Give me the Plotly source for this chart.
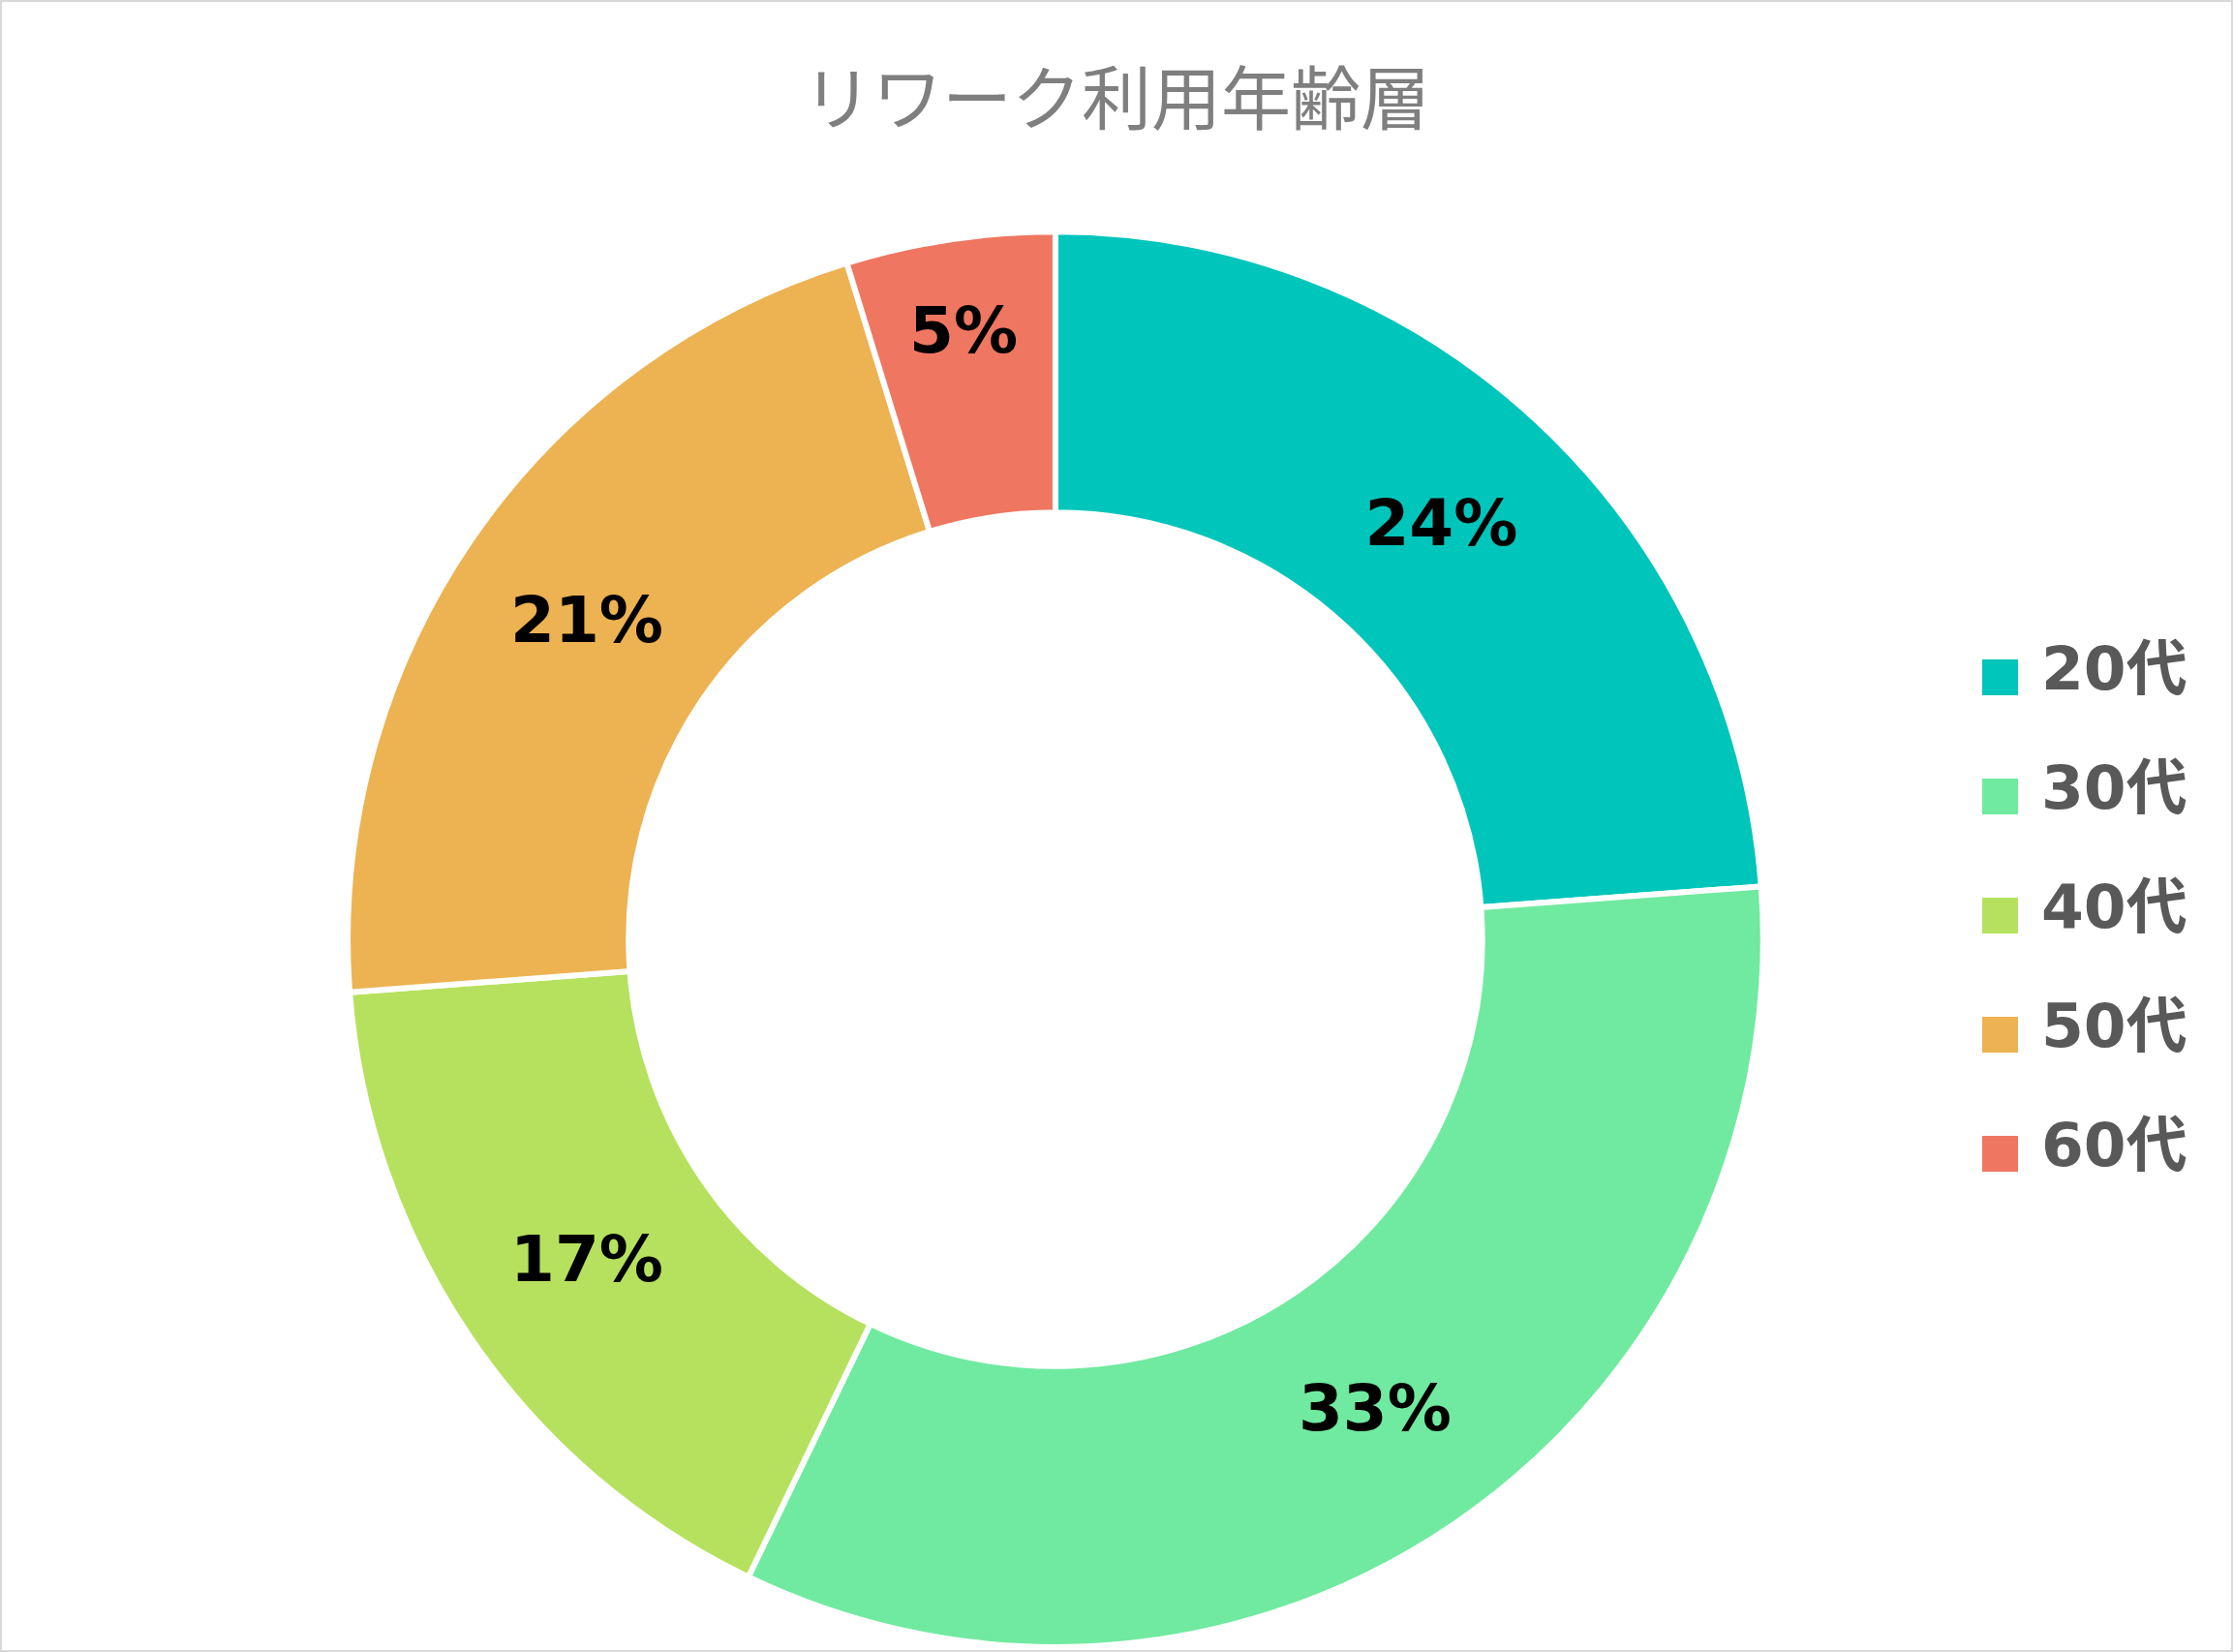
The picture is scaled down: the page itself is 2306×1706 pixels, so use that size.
import plotly.graph_objects as go

# age groups and number of rework users (42 in total)
labels = ["20代", "30代", "40代", "50代", "60代"]
users = [10, 14, 7, 9, 2]
colors = ["#00C5BB", "#70EAA0", "#B6E15E", "#EDB252", "#EF7661"]

W, H = 2306, 1706

fig = go.Figure()
fig.add_trace(go.Pie(
    labels=labels,
    values=users,
    hole=0.603,
    sort=False,
    direction="clockwise",
    rotation=0,
    showlegend=False,
    marker=dict(colors=colors, line=dict(color="white", width=6)),
    texttemplate="%{percent:.0%}",
    textposition="inside",
    insidetextorientation="horizontal",
    textfont=dict(family="DejaVu Sans", size=66, color="black", weight="bold"),
    domain=dict(x=[0.1555, 0.7898], y=[0.0030, 0.8598]),
))

# legend drawn by hand so the swatches can be as big as in the original
sw = 37  # swatch size in px
top = 699.5  # centre of the first swatch, px from top
step = 123
shapes = [dict(type="rect", xref="paper", yref="paper", x0=0, y0=0, x1=1, y1=1,
               line=dict(color="#d9d9d9", width=4))]
annotations = []
for i, (lab, col) in enumerate(zip(labels, colors)):
    yc = 1 - (top + i * step) / H
    shapes.append(dict(type="rect", xref="paper", yref="paper",
                       x0=2047 / W, x1=(2047 + sw) / W,
                       y0=yc - sw / 2 / H, y1=yc + sw / 2 / H,
                       fillcolor=col, line=dict(width=0)))
    annotations.append(dict(text=lab, xref="paper", yref="paper", x=2106 / W, y=yc,
                            xanchor="left", yanchor="middle", yshift=9, showarrow=False,
                            font=dict(family="DejaVu Sans, Noto Sans CJK JP", size=63,
                                      color="#595959", weight="bold")))

fig.update_layout(
    width=W, height=H,
    margin=dict(l=0, r=0, t=0, b=0),
    paper_bgcolor="white",
    title=dict(text="リワーク利用年齢層", x=0.5, xanchor="center", y=0.9396, yanchor="middle",
               font=dict(family="Noto Sans CJK JP", size=72, color="#7f7f7f")),
    shapes=shapes,
    annotations=annotations,
)

fig.write_html("out.html", config={"displayModeBar": False},
               post_script="document.body.style.margin='0';")
